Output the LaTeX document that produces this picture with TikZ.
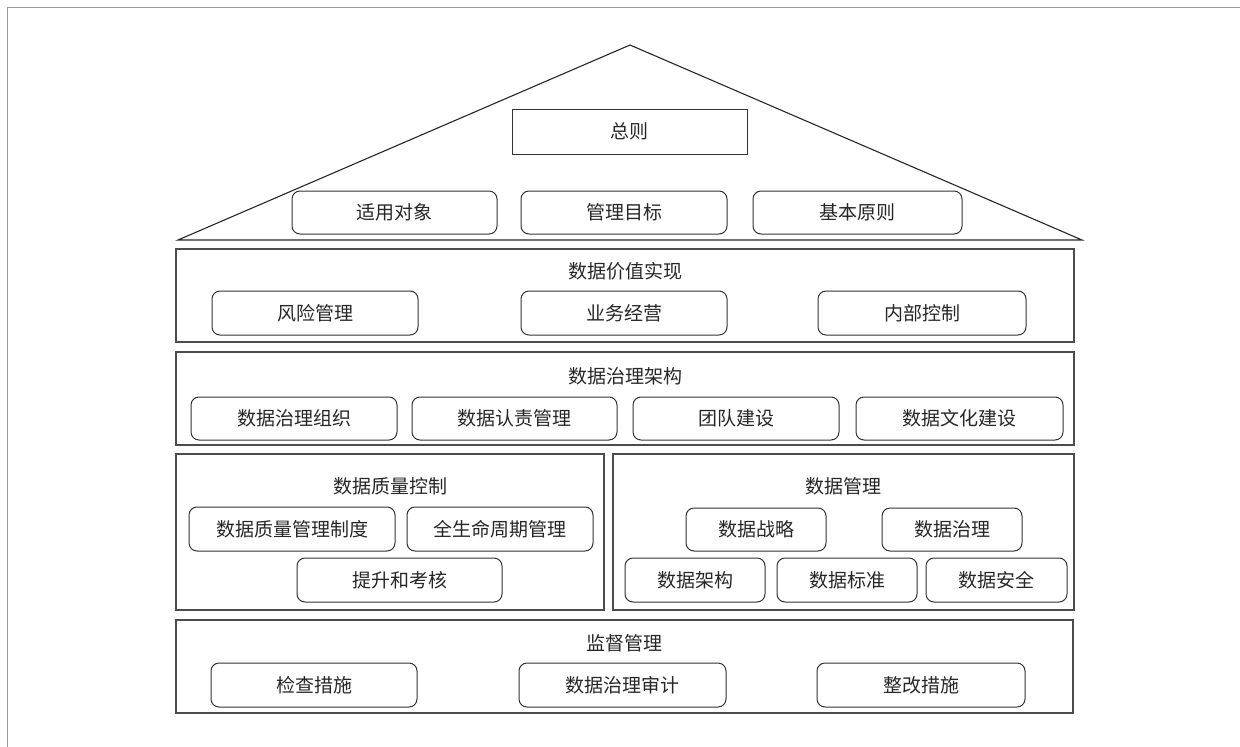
\documentclass[tikz,border=0pt]{standalone}
\usepackage{fontspec}
\newfontfamily\cjk{Noto Sans CJK SC}
\begin{document}
\begin{tikzpicture}[x=1pt,y=-1pt,
  every node/.style={font=\cjk\fontsize{19}{21}\selectfont, text=black!85},
  band/.style={draw=black!70, line width=1.2pt, inner sep=0pt},
  rbox/.style={draw=black!80, line width=1pt, rounded corners=8pt, inner sep=0pt},
  sbox/.style={draw=black!80, line width=1pt, inner sep=0pt},
  title/.style={inner sep=0pt},
  roof/.style={draw=black!85, line width=1.1pt, line join=miter}
]
\useasboundingbox (0,0) rectangle (1240,747);
% frame
\coordinate (fTL) at (7.5,7.5);
\coordinate (fTR) at (1240,7.5);
\coordinate (fBL) at (7.5,747);
\draw[black!40, line width=1.8pt] (fTR) -- (fTL) -- (fBL);
% roof
\coordinate (apex) at (630,45);
\coordinate (roofL) at (178,240);
\coordinate (roofR) at (1082,240);
\draw[roof] (roofL) -- (apex) -- (roofR) -- cycle;
\node[sbox, minimum width=235pt, minimum height=45pt] (zongze) at (629.5,131.5) {总则};
\node[rbox, minimum width=205pt, minimum height=43pt] (r1) at (394.5,212.5) {适用对象};
\node[rbox, minimum width=206pt, minimum height=43pt] (r2) at (624,212.5) {管理目标};
\node[rbox, minimum width=209pt, minimum height=43pt] (r3) at (857.5,212.5) {基本原则};
% band 1
\node[band, minimum width=898pt, minimum height=93pt] (b1) at (625,295.5) {};
\node[title] (t1) at (625,271) {数据价值实现};
\node[rbox, minimum width=206pt, minimum height=44pt] (b1a) at (315,313) {风险管理};
\node[rbox, minimum width=206pt, minimum height=44pt] (b1b) at (624,313) {业务经营};
\node[rbox, minimum width=208pt, minimum height=44pt] (b1c) at (922,313) {内部控制};
% band 2
\node[band, minimum width=898pt, minimum height=93pt] (b2) at (625,398.5) {};
\node[title] (t2) at (625,376) {数据治理架构};
\node[rbox, minimum width=206pt, minimum height=43pt] (b2a) at (294,418.5) {数据治理组织};
\node[rbox, minimum width=205pt, minimum height=43pt] (b2b) at (514.5,418.5) {数据认责管理};
\node[rbox, minimum width=206pt, minimum height=43pt] (b2c) at (736,418.5) {团队建设};
\node[rbox, minimum width=207pt, minimum height=43pt] (b2d) at (959.5,418.5) {数据文化建设};
% band 3
\node[band, minimum width=428pt, minimum height=156pt] (b3) at (390,532) {};
\node[title] (t3) at (390,486) {数据质量控制};
\node[rbox, minimum width=206pt, minimum height=44pt] (b3a) at (292,529) {数据质量管理制度};
\node[rbox, minimum width=186pt, minimum height=44pt] (b3b) at (500,529) {全生命周期管理};
\node[rbox, minimum width=205pt, minimum height=44pt] (b3c) at (399.5,580) {提升和考核};
% band 4
\node[band, minimum width=461pt, minimum height=156pt] (b4) at (843.5,532) {};
\node[title] (t4) at (843.5,486) {数据管理};
\node[rbox, minimum width=140pt, minimum height=43pt] (b4a) at (756,529.5) {数据战略};
\node[rbox, minimum width=140pt, minimum height=43pt] (b4b) at (952,529.5) {数据治理};
\node[rbox, minimum width=140pt, minimum height=44pt] (b4c) at (695,580) {数据架构};
\node[rbox, minimum width=140pt, minimum height=44pt] (b4d) at (847,580) {数据标准};
\node[rbox, minimum width=141pt, minimum height=44pt] (b4e) at (996.5,580) {数据安全};
% band 5
\node[band, minimum width=897pt, minimum height=93pt] (b5) at (624.5,666.5) {};
\node[title] (t5) at (624.5,643) {监督管理};
\node[rbox, minimum width=206pt, minimum height=44pt] (b5a) at (314,685) {检查措施};
\node[rbox, minimum width=207pt, minimum height=44pt] (b5b) at (622.5,685) {数据治理审计};
\node[rbox, minimum width=208pt, minimum height=44pt] (b5c) at (921,685) {整改措施};
\end{tikzpicture}
\end{document}
